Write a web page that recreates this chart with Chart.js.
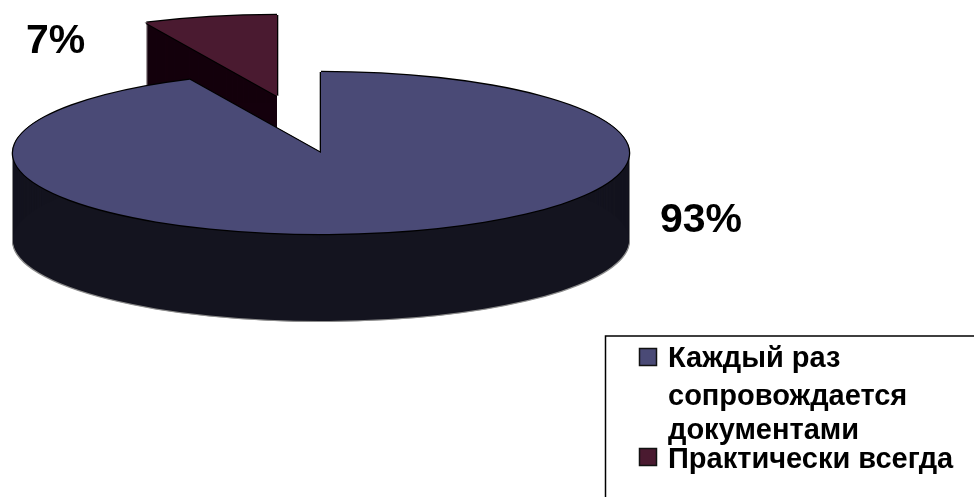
<!DOCTYPE html>
<html><head><meta charset="utf-8">
<style>html,body{margin:0;padding:0;background:#fff}canvas{display:block}</style>
<script src="https://cdn.jsdelivr.net/npm/chart.js@4"></script>
</head><body>
<canvas id="c" width="974" height="497"></canvas>
<script>
const categories = ['Каждый раз сопровождается документами', 'Практически всегда'];
const legendLines = [['Каждый раз', 'сопровождается', 'документами'], ['Практически всегда']];
const values = [93, 7];
const percentLabels = ['93%', '7%'];
const topColors = ['#4a4a76', '#4a1a30'];
const wallColors = ['#14141f', '#14000c'];

const view = {cy: 153, squash: 81 / 308, depth: 87};
const explode = [{x: 0, y: 0}, {x: -44, y: -57}];
const labelPos = [{x: 660, y: 232}, {x: 26, y: 53}];
const FONT = '"Liberation Sans", Arial, sans-serif';

function paint(ctx, arc, color, dx, dy, chart) {
  const ghost = Object.create(arc);
  ghost.options = Object.assign({}, arc.options, {backgroundColor: color, borderWidth: 0});
  const a = chart.chartArea, midY = (a.top + a.bottom) / 2;
  ctx.save();
  ctx.translate(dx, view.cy + dy);
  ctx.scale(1, view.squash);
  ctx.translate(0, -midY);
  ghost.draw(ctx);
  ctx.restore();
}

const pie3d = {
  id: 'pie3d',
  beforeDatasetsDraw(chart) {
    const ctx = chart.ctx, arcs = chart.getDatasetMeta(0).data;
    [1, 0].forEach(i => {
      const arc = arcs[i], e = explode[i];
      if (i === 0) {
        for (let d = 0; d <= view.depth + 1; d++) {
          paint(ctx, arc, '#8c8c8c', e.x - 1, e.y + d, chart);
          paint(ctx, arc, '#8c8c8c', e.x + 1, e.y + d, chart);
        }
      }
      for (let d = 0; d <= view.depth; d++) paint(ctx, arc, wallColors[i], e.x, e.y + d, chart);
      [[-1.3, 0], [1.3, 0], [0, -1.3], [0, 1.3]].forEach(o => paint(ctx, arc, '#000', e.x + o[0], e.y + o[1], chart));
      paint(ctx, arc, topColors[i], e.x, e.y, chart);
    });
    return false;
  },
  afterDraw(chart) {
    const ctx = chart.ctx;
    ctx.save();
    ctx.fillStyle = '#000';
    ctx.textBaseline = 'alphabetic';
    ctx.font = 'bold 41px ' + FONT;
    percentLabels.forEach((t, i) => ctx.fillText(t, labelPos[i].x, labelPos[i].y));
    ctx.strokeStyle = '#000';
    ctx.lineWidth = 1.5;
    ctx.strokeRect(605.5, 336, 500, 300);
    const swatchY = [348, 448];
    const baselines = [[367, 405, 439], [468]];
    ctx.font = 'bold 29px ' + FONT;
    legendLines.forEach((lines, i) => {
      ctx.fillStyle = topColors[i];
      ctx.fillRect(639.5, swatchY[i] + .5, 17, 17);
      ctx.strokeStyle = '#111';
      ctx.lineWidth = 1.5;
      ctx.strokeRect(639.5, swatchY[i] + .5, 17, 17);
      ctx.fillStyle = '#000';
      lines.forEach((t, j) => ctx.fillText(t, 668, baselines[i][j]));
    });
    ctx.restore();
  }
};

new Chart(document.getElementById('c'), {
  type: 'pie',
  data: {labels: categories, datasets: [{data: values, backgroundColor: topColors, borderWidth: 0}]},
  options: {
    responsive: false,
    animation: false,
    radius: 308,
    layout: {padding: {left: 0, top: 0, bottom: 0, right: 332}},
    plugins: {legend: {display: false}, tooltip: {enabled: false}}
  },
  plugins: [pie3d]
});
</script>
</body></html>
